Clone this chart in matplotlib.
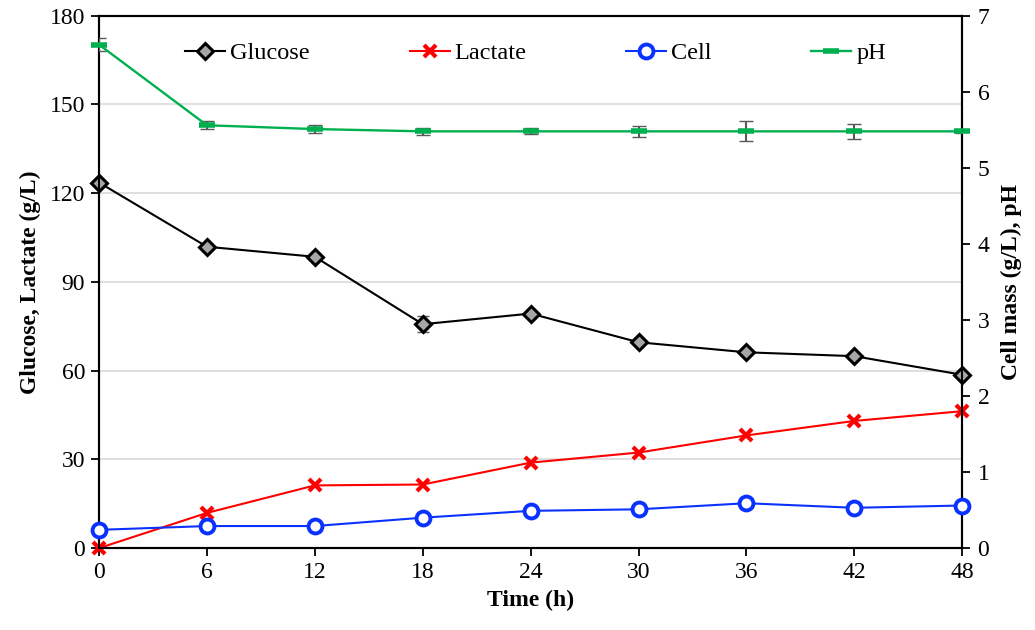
import matplotlib
matplotlib.use("Agg")
import matplotlib.pyplot as plt

# data
time_h = [0, 6, 12, 18, 24, 30, 36, 42, 48]
glucose = [123.6, 101.9, 98.5, 75.7, 79.3, 69.6, 66.2, 64.9, 58.6]
glucose_err = [0.8, 1.0, 1.0, 2.8, 0.8, 1.0, 1.0, 0.8, 0.8]
lactate = [0.0, 11.9, 21.2, 21.5, 28.9, 32.3, 38.1, 43.0, 46.3]
cell = [0.24, 0.29, 0.29, 0.40, 0.49, 0.51, 0.59, 0.53, 0.56]
ph = [6.62, 5.56, 5.51, 5.48, 5.48, 5.48, 5.48, 5.48, 5.48]
ph_err = [0.09, 0.05, 0.05, 0.05, 0.04, 0.07, 0.13, 0.10, 0.02]

x_ticks = [0, 6, 12, 18, 24, 30, 36, 42, 48]
left_ticks = [0, 30, 60, 90, 120, 150, 180]
right_ticks = [0, 1, 2, 3, 4, 5, 6, 7]

plt.rcParams['font.family'] = ['Liberation Serif', 'DejaVu Serif']

green = '#00B050'
blue = '#0A32FF'
red = '#FF0000'
errc = '#595959'

fig = plt.figure(figsize=(10.35, 6.3), dpi=100)
ax = fig.add_axes([0.0957, 0.130, 0.834, 0.845])
ax2 = ax.twinx()

ax.set_xlim(0, 48)
ax.set_ylim(0, 180)
ax2.set_ylim(0, 7)
ax.set_xticks(x_ticks)
ax.set_yticks(left_ticks)
ax2.set_yticks(right_ticks)

ax.yaxis.grid(True, color='#D9D9D9', lw=1.2)
ax.set_axisbelow(True)

for sp in ax.spines.values():
    sp.set_linewidth(1.5)
for sp in ax2.spines.values():
    sp.set_linewidth(1.5)

ax.tick_params(direction='out', length=6, width=1.3, labelsize=17, pad=4)
ax2.tick_params(direction='out', length=6, width=1.3, labelsize=17, pad=5)

# glucose and lactate on left axis
ax.errorbar(time_h, glucose, yerr=glucose_err, fmt='none', ecolor=errc,
            elinewidth=1.2, capsize=4, zorder=3)
h_glu, = ax.plot(time_h, glucose, color='black', lw=1.5, marker='D', ms=8,
                 mfc='#A6A6A6', mec='black', mew=2.2, label='Glucose',
                 zorder=4, clip_on=False)
h_lac, = ax.plot(time_h, lactate, color=red, lw=1.5, marker='x', ms=9,
                 mec=red, mew=3, label='Lactate', zorder=4, clip_on=False)

# cell mass and pH on right axis
h_cell, = ax2.plot(time_h, cell, color=blue, lw=1.5, marker='o', ms=10,
                   mfc='white', mec=blue, mew=2.8, label='Cell', zorder=4,
                   clip_on=False)
ax2.errorbar(time_h, ph, yerr=ph_err, fmt='none', ecolor=errc,
             elinewidth=1.5, capsize=5, zorder=3)
h_ph, = ax2.plot(time_h, ph, color=green, lw=1.7, marker='_', ms=12, mew=4,
                 mec=green, label='pH', zorder=4, clip_on=False)

ax.set_xlabel('Time (h)', fontsize=17, fontweight='bold', labelpad=5)
ax.set_ylabel('Glucose, Lactate (g/L)', fontsize=17, fontweight='bold', labelpad=6)
ax2.set_ylabel('Cell mass (g/L), pH', fontsize=17, fontweight='bold', labelpad=8)

leg = ax2.legend(handles=[h_glu, h_lac, h_cell, h_ph], loc='center left',
                 bbox_to_anchor=(0.1, 0.93), ncol=4, frameon=False,
                 fontsize=17.5, columnspacing=4.1, handlelength=1.65,
                 handletextpad=0.2, borderpad=0, borderaxespad=0)

fig.savefig('out.png', dpi=100)
